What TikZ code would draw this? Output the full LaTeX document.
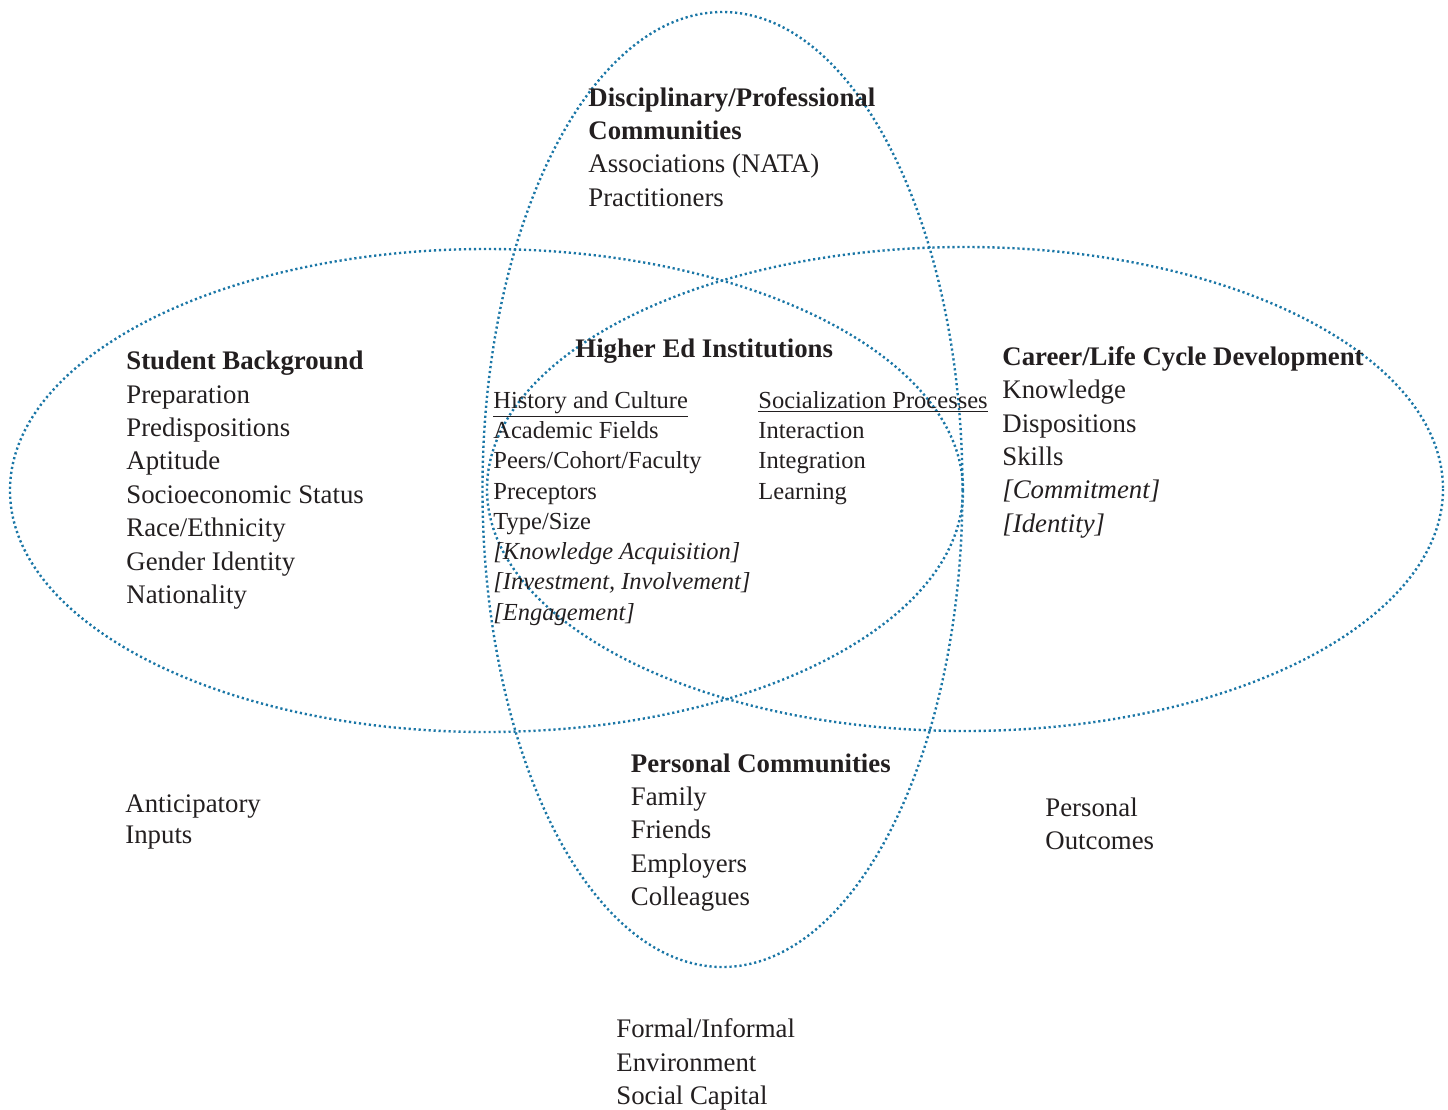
\documentclass[tikz,border=0pt]{standalone}
\usepackage{fontspec}
\setmainfont{Liberation Serif}
\usepackage{tikz}
\usetikzlibrary{positioning}
\definecolor{ringblue}{RGB}{26,118,166}
\definecolor{inkgray}{RGB}{35,31,32}

\begin{document}
\begin{tikzpicture}[
		x=0.5pt, y=-0.5pt,
		ring/.style={
			draw=ringblue,
			line width=1.2pt,
			dash pattern=on 1.1pt off 1.4pt
		},
		block/.style={
			anchor=north west,
			inner sep=0pt,
			align=left,
			text=inkgray,
			font=\fontsize{13.4}{16.7}\selectfont
		},
		smallblock/.style={
			block,
			font=\fontsize{12.25}{15.15}\selectfont
		},
		sideblock/.style={
			block,
			font=\fontsize{13.4}{15.5}\selectfont
		}
		]
		\useasboundingbox (0,0) rectangle (1448,1110);
		
		% the three overlapping rings
		\draw [ring] (486.5,490.5) ellipse [x radius=476.5, y radius=241.5];
		\draw [ring] (965,489) ellipse [x radius=478, y radius=242];
		\draw [ring] (722.5,489.5) ellipse [x radius=240, y radius=477.5];
		
		% text blocks
		\node [block] (discipline) at (588,82.3)
		{\strut\textbf{Disciplinary/Professional}\\
			\textbf{Communities}\\
			Associations (NATA)\\
			Practitioners};
		
		\node [block] (student) at (126,345.9)
		{\strut\textbf{Student Background}\\
			Preparation\\
			Predispositions\\
			Aptitude\\
			Socioeconomic Status\\
			Race/Ethnicity\\
			Gender Identity\\
			Nationality};
		
		\node [block] (higher) at (575,333.9)
		{\strut\textbf{Higher Ed Institutions}};
		
		\node [smallblock] (history) at (493,386.5)
		{\strut\underline{History and Culture}\\
			Academic Fields\\
			Peers/Cohort/Faculty\\
			Preceptors\\
			Type/Size\\
			\textit{[Knowledge Acquisition]}\\
			\textit{[Investment, Involvement]}\\
			\textit{[Engagement]}};
		
		\node [smallblock] (process) at (758,386.5)
		{\strut\underline{Socialization Processes}\\
			Interaction\\
			Integration\\
			Learning};
		
		\node [block] (career) at (1002,341.6)
		{\strut\textbf{Career/Life Cycle Development}\\
			Knowledge\\
			Dispositions\\
			Skills\\
			\textit{[Commitment]}\\
			\textit{[Identity]}};
		
		\node [block] (personal) at (630.5,748.3)
		{\strut\textbf{Personal Communities}\\
			Family\\
			Friends\\
			Employers\\
			Colleagues};
		
		% labels outside the rings
		\node [sideblock] (inputs) at (125,790)
		{\strut Anticipatory\\Inputs};
		
		\node [block] (outcomes) at (1045,792.3)
		{\strut Personal\\Outcomes};
		
		\node [block] (environment) at (616,1013.9)
		{\strut Formal/Informal\\
			Environment\\
			Social Capital};
		
\end{tikzpicture}
\end{document}
